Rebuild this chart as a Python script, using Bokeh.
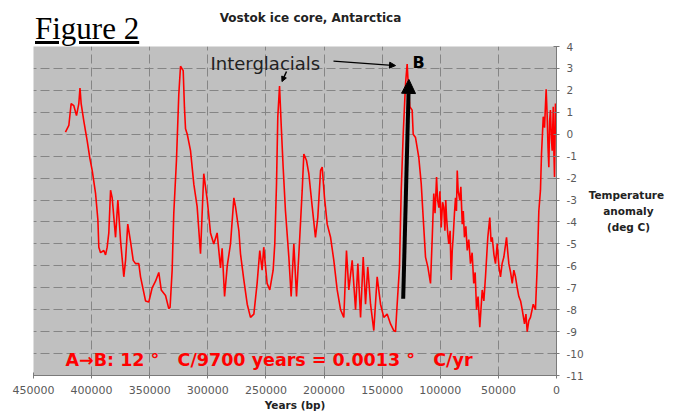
from bokeh.plotting import figure
from bokeh.models import Range1d, FixedTicker, Label, Arrow, NormalHead, Div
from bokeh.layouts import column
from bokeh.embed import file_html
from bokeh.resources import INLINE

# ---- data ----
years_k = [422.5, 419.6, 417.6, 415.3, 413.0, 411.0, 410.0, 409.0, 406.7, 403.8,
           401.5, 399.5, 396.6, 394.6, 393.8, 392.3, 389.5, 388.0, 386.6, 385.2,
           383.7, 382.3, 379.4, 377.4, 375.1, 372.3, 370.8, 368.9, 366.5, 364.2,
           362.2, 359.4, 357.9, 353.6, 350.8, 347.9, 345.0, 342.2, 340.1, 336.4,
           333.6, 332.5, 330.7, 329.3, 327.0, 325.0, 323.5, 321.2, 320.1, 319.2,
           317.7, 314.9, 312.0, 309.2, 306.3, 303.5, 300.5, 297.7, 294.9, 292.0,
           289.1, 287.7, 285.6, 283.3, 280.5, 277.6, 276.2, 273.3, 271.9, 269.0,
           266.1, 263.3, 260.4, 257.6, 255.3, 253.3, 251.9, 249.0, 246.7, 243.8,
           242.4, 240.9, 239.8, 238.3, 236.9, 235.2, 233.2, 230.3, 228.3, 226.0,
           223.7, 220.9, 218.8, 217.4, 215.1, 213.1, 210.2, 207.4, 205.4, 203.0,
           201.6, 199.6, 197.3, 194.4, 191.6, 188.7, 185.8, 183.0, 180.7, 178.7,
           175.8, 172.9, 170.9, 168.6, 166.3, 164.3, 162.4, 160.0, 157.2, 154.3,
           151.4, 148.6, 145.7, 142.8, 140.0, 138.5, 137.1, 135.1, 133.6, 131.9,
           129.9, 128.5, 127.9, 126.2, 124.2, 123.3, 121.3, 118.5, 116.4, 114.7,
           112.7, 110.7, 108.4, 106.9, 105.6, 104.5, 103.2, 102.3, 101.2, 100.3,
           99.2, 98.0, 97.0, 96.0, 95.3, 94.6, 93.6, 92.7, 91.5, 90.6,
           89.7, 88.9, 87.8, 86.9, 86.1, 85.4, 84.6, 83.2, 82.3, 81.1,
           80.2, 79.2, 78.0, 76.8, 75.5, 74.0, 72.6, 71.2, 70.0, 68.8,
           67.5, 66.0, 63.9, 62.5, 61.1, 59.1, 57.4, 56.3, 55.3, 53.8,
           52.5, 51.0, 49.6, 48.2, 46.8, 45.3, 43.0, 41.9, 41.0, 39.5,
           38.1, 36.7, 35.3, 33.8, 32.4, 30.9, 29.5, 27.5, 26.3, 25.2,
           23.8, 22.4, 20.0, 18.1, 16.6, 15.2, 13.8, 12.9, 11.4, 10.3,
           9.6, 8.9, 8.0, 7.3, 6.6, 5.9, 5.2, 4.4, 3.7, 2.8,
           2.2, 1.7, 0.9, 0.3]
temp_anomaly = [0.1, 0.4, 1.4, 1.3, 0.85, 1.4, 2.1, 1.4, 0.6, -0.3,
                -1.1, -1.65, -2.7, -3.9, -5.15, -5.4, -5.3, -5.5, -5.15, -4.5,
                -2.55, -2.9, -4.7, -3.0, -4.85, -6.5, -5.75, -4.1, -4.9, -5.75,
                -5.9, -5.9, -6.5, -7.6, -7.65, -7.0, -6.7, -6.3, -7.1, -7.35,
                -7.95, -7.9, -6.2, -3.6, -1.2, 1.8, 3.1, 2.9, 1.2, 0.25,
                0.0, -0.75, -2.3, -3.3, -5.45, -1.8, -3.0, -4.5, -5.0, -4.5,
                -6.1, -5.2, -7.4, -6.0, -5.0, -2.9, -3.3, -4.4, -5.45, -6.65,
                -7.75, -8.35, -8.2, -6.8, -5.3, -6.2, -5.15, -6.8, -7.1, -6.2,
                -5.0, -2.25, 0.8, 2.2, 0.45, -1.5, -3.5, -5.6, -7.4, -5.0,
                -7.4, -4.7, -2.55, -0.9, -1.2, -1.8, -3.3, -4.7, -3.8, -1.65,
                -1.5, -2.9, -4.1, -4.7, -5.75, -7.1, -8.0, -8.35, -5.3, -7.1,
                -5.75, -8.0, -5.9, -8.35, -5.6, -7.75, -6.05, -7.75, -8.95, -6.5,
                -7.75, -8.35, -8.2, -8.65, -8.95, -9.0, -7.75, -6.05, -2.55, 0.0,
                2.3, 3.2, 2.6, 1.25, 1.1, 0.0, -0.15, -1.05, -2.25, -3.8,
                -5.6, -6.05, -6.8, -4.7, -2.7, -3.6, -1.95, -3.0, -3.35, -2.6,
                -4.25, -3.1, -3.35, -4.4, -3.0, -3.8, -4.5, -5.0, -4.4, -6.65,
                -5.3, -4.7, -3.6, -2.9, -3.5, -1.65, -2.6, -3.0, -2.4, -4.1,
                -3.5, -4.7, -4.2, -5.3, -4.8, -5.9, -5.4, -6.8, -6.3, -8.0,
                -7.4, -8.8, -7.1, -7.6, -6.5, -4.7, -3.8, -4.9, -4.7, -5.5,
                -5.9, -5.0, -6.0, -6.5, -5.9, -5.6, -4.7, -5.4, -5.9, -6.3,
                -6.8, -6.2, -6.5, -7.0, -7.4, -7.6, -8.0, -8.65, -8.2, -9.0,
                -8.5, -8.35, -7.75, -8.0, -6.05, -3.5, -2.55, -0.9, 0.8, 0.3,
                1.2, 2.05, 0.8, -0.6, -1.5, 0.6, 1.1, -0.2, -0.75, 1.25,
                -0.9, -1.95, 1.4, 0.0]
years = [k * 1000 for k in years_k]

x_ticks = [450000, 400000, 350000, 300000, 250000, 200000, 150000, 100000, 50000, 0]
x_tick_labels = ["450000", "400000", "350000", "300000", "250000", "200000",
                 "150000", "100000", "50000", "0"]
y_ticks = [4, 3, 2, 1, 0, -1, -2, -3, -4, -5, -6, -7, -8, -9, -10, -11]
y_tick_labels = ["4", "3", "2", "1", "0", "-1", "-2", "-3", "-4", "-5", "-6",
                 "-7", "-8", "-9", "-10", "-11"]

# annotation anchor points (years, deg C)
big_arrow = (131900, -7.5, 127000, 2.5)
arrow_to_b = (191900, 3.33, 138500, 3.13)
arrow_to_240k = (232300, 2.86, 236200, 2.4)

# ---- header (figure caption and chart title) ----
header_html = (
    '<div style="position:relative;width:676px;height:40px;overflow:visible;">'
    '<div style="position:absolute;left:35px;top:13px;margin:0;padding:0;'
    'font-family:\'Liberation Serif\';font-size:31px;line-height:1;color:#000;'
    'text-decoration:underline;white-space:nowrap;">Figure 2</div>'
    '<div style="position:absolute;left:0px;top:11.5px;width:621px;margin:0;padding:0;'
    'text-align:center;font-family:\'DejaVu Sans\';font-weight:bold;font-size:12px;'
    'line-height:1;color:#222;white-space:nowrap;">Vostok ice core, Antarctica</div>'
    '</div>')
header = Div(text=header_html, width=676, height=40, margin=0)

# ---- figure ----
p = figure(width=676, height=374, title=None,
           x_range=Range1d(450000, 0), y_range=Range1d(-11, 4),
           y_axis_location="right", output_backend="svg", toolbar_location=None,
           min_border_left=33, min_border_right=120, min_border_top=6,
           min_border_bottom=39, margin=0)
p.background_fill_color = "#c0c0c0"
p.border_fill_color = None
p.outline_line_color = None

for ax, ticks, labels in ((p.xaxis, x_ticks, x_tick_labels), (p.yaxis, y_ticks, y_tick_labels)):
    ax.ticker = FixedTicker(ticks=ticks)
    ax.major_label_overrides = {t: l for t, l in zip(ticks, labels)}
    ax.axis_line_color = "#7a7a7a"
    ax.major_tick_line_color = "#7a7a7a"
    ax.minor_tick_line_color = None
    ax.major_tick_in = 3
    ax.major_tick_out = 3
    ax.major_label_text_font = "DejaVu Sans"
    ax.major_label_text_color = "#5a5a5a"
    ax.axis_label_text_font = "DejaVu Sans"
    ax.axis_label_text_font_style = "bold"
    ax.axis_label_text_font_size = "10.5px"
    ax.axis_label_text_color = "#222222"
p.xaxis.major_label_text_font_size = "11px"
p.yaxis.major_label_text_font_size = "10.5px"
p.xaxis.major_label_standoff = 7
p.yaxis.major_label_standoff = 7

p.xaxis.axis_label = "Years (bp)"
p.xaxis.axis_label_standoff = 2
nb = "\u00a0"
p.yaxis.axis_label = "Temperature\n" + nb * 4 + "anomaly\n" + nb * 5 + "(deg C)"
p.yaxis.axis_label_orientation = "horizontal"
p.yaxis.axis_label_standoff = 2
p.yaxis.axis_label_text_line_height = 1.35

p.xgrid.ticker = FixedTicker(ticks=x_ticks)
p.ygrid.ticker = FixedTicker(ticks=y_ticks)
for g in (p.xgrid, p.ygrid):
    g.grid_line_color = "#858585"
    g.grid_line_dash = "9 4"
    g.grid_line_width = 1

p.line(years, temp_anomaly, line_color="#ff0000", line_width=1.6)

p.add_layout(Arrow(end=NormalHead(size=14, fill_color="black", line_color="black"),
                   x_start=big_arrow[0], y_start=big_arrow[1],
                   x_end=big_arrow[2], y_end=big_arrow[3],
                   line_color="black", line_width=4))
p.add_layout(Arrow(end=NormalHead(size=6, fill_color="black", line_color="black"),
                   x_start=arrow_to_b[0], y_start=arrow_to_b[1],
                   x_end=arrow_to_b[2], y_end=arrow_to_b[3],
                   line_color="black", line_width=1.3))
p.add_layout(Arrow(end=NormalHead(size=5, fill_color="black", line_color="black"),
                   x_start=arrow_to_240k[0], y_start=arrow_to_240k[1],
                   x_end=arrow_to_240k[2], y_end=arrow_to_240k[3],
                   line_color="black", line_width=1.5))

def lab(text, x, y, size, color="black", bold=False):
    p.add_layout(Label(text=text, x=x, y=y, x_units="screen", y_units="screen",
                       text_font="DejaVu Sans", text_font_size=size, text_color=color,
                       text_font_style="bold" if bold else "normal",
                       text_align="left", text_baseline="alphabetic"))

lab("Interglacials", 177, 312, "18px", color="#222222")
lab("B", 379, 313, "16px", bold=True)
lab("A\u2192B: 12 \u00b0 \u00a0\u00a0C/9700 years = 0.0013 \u00b0 \u00a0\u00a0C/yr", 32, 15.7,
    "17.5px", color="#ff0000", bold=True)

layout = column(header, p, spacing=0)
open("out.html", "w").write(file_html(layout, INLINE))
